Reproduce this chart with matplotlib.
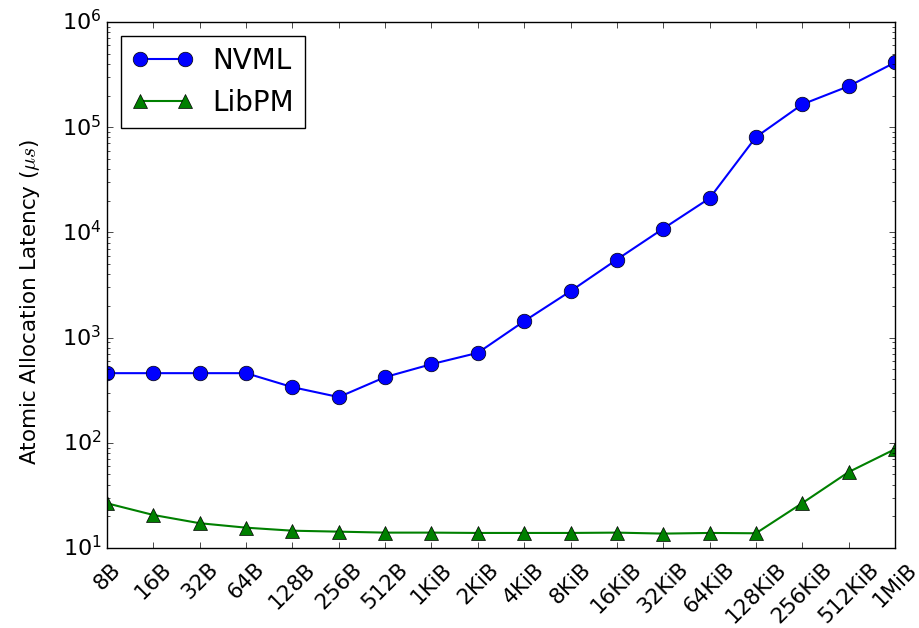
import matplotlib
matplotlib.use("Agg")
import matplotlib.pyplot as plt

plt.style.use("classic")

sizes = ["8B", "16B", "32B", "64B", "128B", "256B", "512B", "1KiB", "2KiB",
         "4KiB", "8KiB", "16KiB", "32KiB", "64KiB", "128KiB", "256KiB",
         "512KiB", "1MiB"]

nvml = [459, 459, 459, 459, 338, 272, 421, 559, 716,
        1432, 2762, 5520, 10860, 21100, 80500, 164800, 245000, 412000]

libpm = [26.6, 20.6, 17.2, 15.6, 14.6, 14.3, 14.0, 14.0, 13.9,
         13.9, 13.9, 14.0, 13.7, 13.9, 13.8, 26.7, 52.7, 87]

fig = plt.figure(figsize=(9.2, 6.28), dpi=100)
ax = fig.add_axes([0.1163, 0.1274, 0.8565, 0.8376])

x = list(range(len(sizes)))
ax.plot(x, nvml, "b-", marker="o", markersize=10.5, linewidth=1.5, label="NVML")
ax.plot(x, libpm, "g-", marker="^", markersize=10.5, linewidth=1.5, label="LibPM")

ax.set_yscale("log")
ax.set_ylim(10, 1e6)
ax.set_xlim(0, len(sizes) - 1)
ax.set_xticks(x)
ax.set_xticklabels(sizes, rotation=45, fontsize=15.5)
ax.tick_params(axis="y", labelsize=16)
ax.tick_params(axis="x", pad=8)
ax.set_ylabel(r"Atomic Allocation Latency ($\mu s$)", fontsize=15.5)
ax.yaxis.set_label_coords(-0.083, 0.468)

ax.legend(loc="upper left", fontsize=20, numpoints=2, handlelength=2.2,
          handletextpad=0.7)

fig.savefig("out.png", dpi=100)
